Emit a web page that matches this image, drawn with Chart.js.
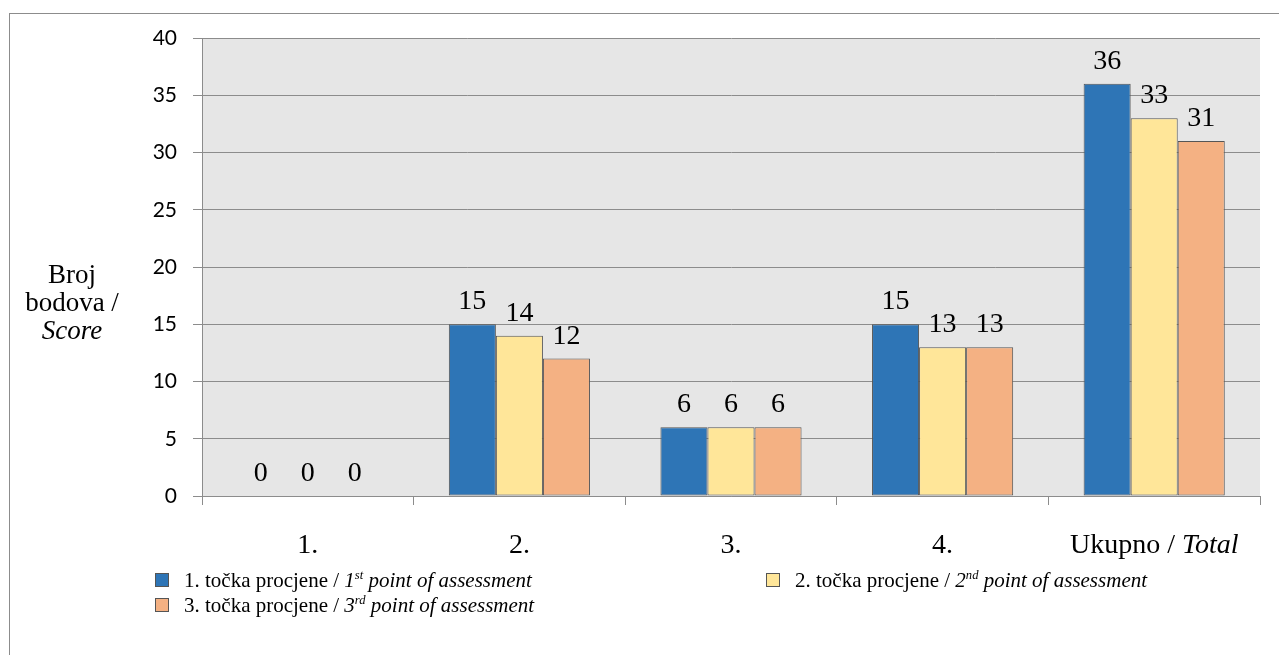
<!DOCTYPE html>
<html>
<head>
<meta charset="utf-8">
<script src="https://cdn.jsdelivr.net/npm/chart.js@4.4.1/dist/chart.umd.min.js"></script>
<style>
	html, body { margin:0; padding:0; background:#fff; overflow:hidden; }
	#wrap { position:relative; width:1279px; height:655px; }
	#frame { position:absolute; left:9px; top:13px; width:1300px; height:700px; border:1px solid #8c8c8c; box-sizing:border-box; }
	#chart { position:absolute; left:0; top:0; }
	.serif { font-family:"Liberation Serif","Times New Roman",serif; color:#000; }
	#ytitle { position:absolute; left:20px; top:260px; width:104px; text-align:center; font-size:27px; line-height:28px; }
	.leg { position:absolute; font-size:21px; white-space:nowrap; line-height:24px; }
	.leg .box { display:inline-block; width:12px; height:12px; border:1px solid #555; margin-right:15px; vertical-align:0px; }
	.leg sup { font-size:0.6em; line-height:0; vertical-align:0.6em; }
</style>
</head>
<body>
<div id="wrap">
	<div id="frame"></div>
	<canvas id="chart" width="1279" height="655"></canvas>
	<div id="ytitle" class="serif">Broj<br>bodova /<br><i>Score</i></div>
	<div id="legend"></div>
</div>
<script>
// categories and tick labels
var categories = ["1.", "2.", "3.", "4.", "Ukupno / Total"];
var catPlain = ["1.", "2.", "3.", "4.", "Ukupno / "];
var catItalic = ["", "", "", "", "Total"];
var yTicks = [0, 5, 10, 15, 20, 25, 30, 35, 40];

// series values
var point1 = [0, 15, 6, 15, 36];
var point2 = [0, 14, 6, 13, 33];
var point3 = [0, 12, 6, 13, 31];

var colours = ["#2e75b6", "#ffe699", "#f4b183"];
var legendItems = [
	{num:"1", sup:"st", left:155, top:568, colour:colours[0]},
	{num:"2", sup:"nd", left:766, top:568, colour:colours[1]},
	{num:"3", sup:"rd", left:155, top:593, colour:colours[2]}
];

// html legend with superscripts
var legendHtml = "";
for (var i = 0; i < legendItems.length; i++) {
	var it = legendItems[i];
	legendHtml += '<div class="leg serif" style="left:' + it.left + 'px;top:' + it.top + 'px">' +
		'<span class="box" style="background:' + it.colour + '"></span>' +
		it.num + '. točka procjene / <i>' + it.num + '<sup>' + it.sup + '</sup> point of assessment</i></div>';
}
document.getElementById("legend").innerHTML = legendHtml;

var serif = '"Liberation Serif", "Times New Roman", serif';

var plotBackground = {
	id: "plotBackground",
	beforeDraw: function(chart) {
		var a = chart.chartArea, ctx = chart.ctx;
		ctx.save();
		ctx.fillStyle = "#e6e6e6";
		ctx.fillRect(a.left, a.top, a.right - a.left, a.bottom - a.top);
		ctx.restore();
	}
};

// value labels above the bars
var barLabels = {
	id: "barLabels",
	afterDatasetsDraw: function(chart) {
		var ctx = chart.ctx;
		ctx.save();
		ctx.font = "28px " + serif;
		ctx.fillStyle = "#000";
		ctx.textAlign = "center";
		ctx.textBaseline = "alphabetic";
		chart.data.datasets.forEach(function(ds, di) {
			chart.getDatasetMeta(di).data.forEach(function(bar, i) {
				ctx.fillText(String(ds.data[i]), bar.x, bar.y - 15);
			});
		});
		ctx.restore();
	}
};

// category labels, last one partly italic
var xLabels = {
	id: "xLabels",
	afterDraw: function(chart) {
		var ctx = chart.ctx, xs = chart.scales.x;
		var y = chart.chartArea.bottom + 57;
		ctx.save();
		ctx.fillStyle = "#000";
		ctx.textBaseline = "alphabetic";
		for (var i = 0; i < categories.length; i++) {
			var cx = xs.getPixelForTick(i);
			ctx.font = "28px " + serif;
			var w1 = ctx.measureText(catPlain[i]).width;
			ctx.font = "italic 28px " + serif;
			var w2 = ctx.measureText(catItalic[i]).width;
			var x0 = cx - (w1 + w2) / 2;
			ctx.textAlign = "left";
			ctx.font = "28px " + serif;
			ctx.fillText(catPlain[i], x0, y);
			ctx.font = "italic 28px " + serif;
			ctx.fillText(catItalic[i], x0 + w1, y);
		}
		ctx.restore();
	}
};

function makeSet(label, data, colour) {
	return {
		label: label,
		data: data,
		backgroundColor: colour,
		borderColor: "#555555",
		borderWidth: 1,
		borderSkipped: false,
		categoryPercentage: 0.667,
		barPercentage: 1.0
	};
}

new Chart(document.getElementById("chart"), {
	type: "bar",
	data: {
		labels: categories,
		datasets: [
			makeSet("1. točka procjene", point1, colours[0]),
			makeSet("2. točka procjene", point2, colours[1]),
			makeSet("3. točka procjene", point3, colours[2])
		]
	},
	options: {
		responsive: false,
		animation: false,
		devicePixelRatio: 1,
		layout: { padding: { left: 0, top: 38, right: 19, bottom: 99 } },
		plugins: {
			legend: { display: false },
			tooltip: { enabled: false }
		},
		scales: {
			x: {
				offset: true,
				grid: { drawOnChartArea: false, drawTicks: true, tickLength: 9, color: "#8c8c8c", offset: true },
				border: { color: "#8c8c8c" },
				ticks: { display: false },
				afterFit: function(s) { s.height = 60; }
			},
			y: {
				min: 0,
				max: 40,
				afterBuildTicks: function(s) {
					s.ticks = yTicks.map(function(v) { return {value: v}; });
				},
				grid: { color: "#8c8c8c", tickLength: 9 },
				border: { color: "#8c8c8c" },
				ticks: {
					color: "#000",
					padding: 16,
					font: { family: "Lato", size: 21 }
				},
				afterFit: function(s) { s.width = 202; }
			}
		}
	},
	plugins: [plotBackground, barLabels, xLabels]
});
</script>
</body>
</html>
